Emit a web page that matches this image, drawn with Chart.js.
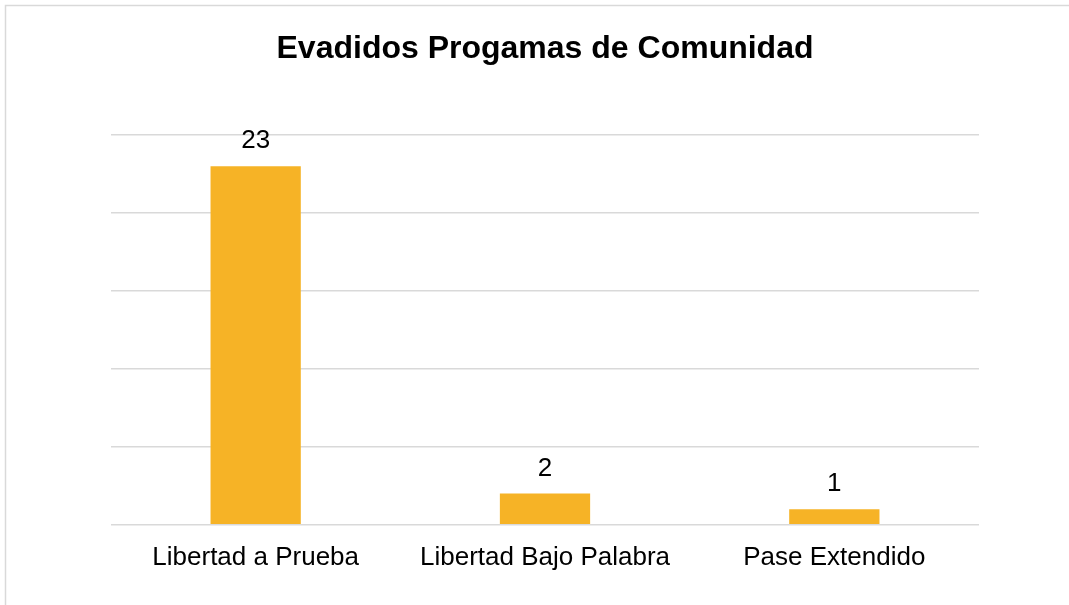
<!DOCTYPE html>
<html>
<head>
<meta charset="utf-8">
<script src="https://cdn.jsdelivr.net/npm/chart.js@4/dist/chart.umd.min.js"></script>
<style>
html,body{margin:0;padding:0;background:#fff;overflow:hidden;}
#wrap{position:relative;width:1069px;height:605px;}
</style>
</head>
<body>
<div id="wrap"><canvas id="c" width="1069" height="605"></canvas></div>
<script>
const categories = ["Libertad a Prueba", "Libertad Bajo Palabra", "Pase Extendido"];
const values = [23, 2, 1];
const yTicks = [0, 5, 10, 15, 20, 25];
const chartTitle = "Evadidos Progamas de Comunidad";

const FONT = "'Liberation Sans', Arial, sans-serif";

const frame = {
  id: 'frame',
  beforeDraw(chart) {
    const ctx = chart.ctx;
    ctx.save();
    ctx.fillStyle = '#fff';
    ctx.fillRect(0, 0, chart.width, chart.height);
    ctx.strokeStyle = '#d9d9d9';
    ctx.lineWidth = 1.5;
    ctx.strokeRect(5.5, 5.5, chart.width + 20, chart.height + 20);
    ctx.restore();
  }
};

const valueLabels = {
  id: 'valueLabels',
  afterDatasetsDraw(chart) {
    const ctx = chart.ctx;
    const meta = chart.getDatasetMeta(0);
    ctx.save();
    ctx.fillStyle = '#000';
    ctx.font = "26px " + FONT;
    ctx.textAlign = 'center';
    ctx.textBaseline = 'alphabetic';
    meta.data.forEach((bar, i) => {
      ctx.fillText(String(chart.data.datasets[0].data[i]), bar.x, bar.y - 18);
    });
    ctx.restore();
  }
};

new Chart(document.getElementById('c'), {
  type: 'bar',
  data: {
    labels: categories,
    datasets: [{
      data: values,
      backgroundColor: '#F6B326',
      borderWidth: 0,
      categoryPercentage: 1,
      barPercentage: 0.312
    }]
  },
  options: {
    responsive: false,
    animation: false,
    devicePixelRatio: 1,
    layout: { padding: { left: 111, right: 90, top: 10, bottom: 15 } },
    plugins: {
      legend: { display: false },
      tooltip: { enabled: false },
      title: {
        display: true,
        text: chartTitle,
        color: '#000',
        font: { family: FONT, size: 32, weight: 'bold' },
        padding: { top: 20, bottom: 66.6 }
      }
    },
    scales: {
      x: {
        grid: { display: false, drawTicks: false },
        border: { display: false },
        ticks: {
          color: '#000',
          font: { family: FONT, size: 26 },
          padding: 17,
          maxRotation: 0
        }
      },
      y: {
        min: yTicks[0],
        max: yTicks[yTicks.length - 1],
        afterBuildTicks(axis) { axis.ticks = yTicks.map(v => ({ value: v })); },
        grid: { color: '#d9d9d9', lineWidth: 1.5, drawTicks: false },
        border: { display: false },
        ticks: { display: false }
      }
    }
  },
  plugins: [frame, valueLabels]
});
</script>
</body>
</html>
